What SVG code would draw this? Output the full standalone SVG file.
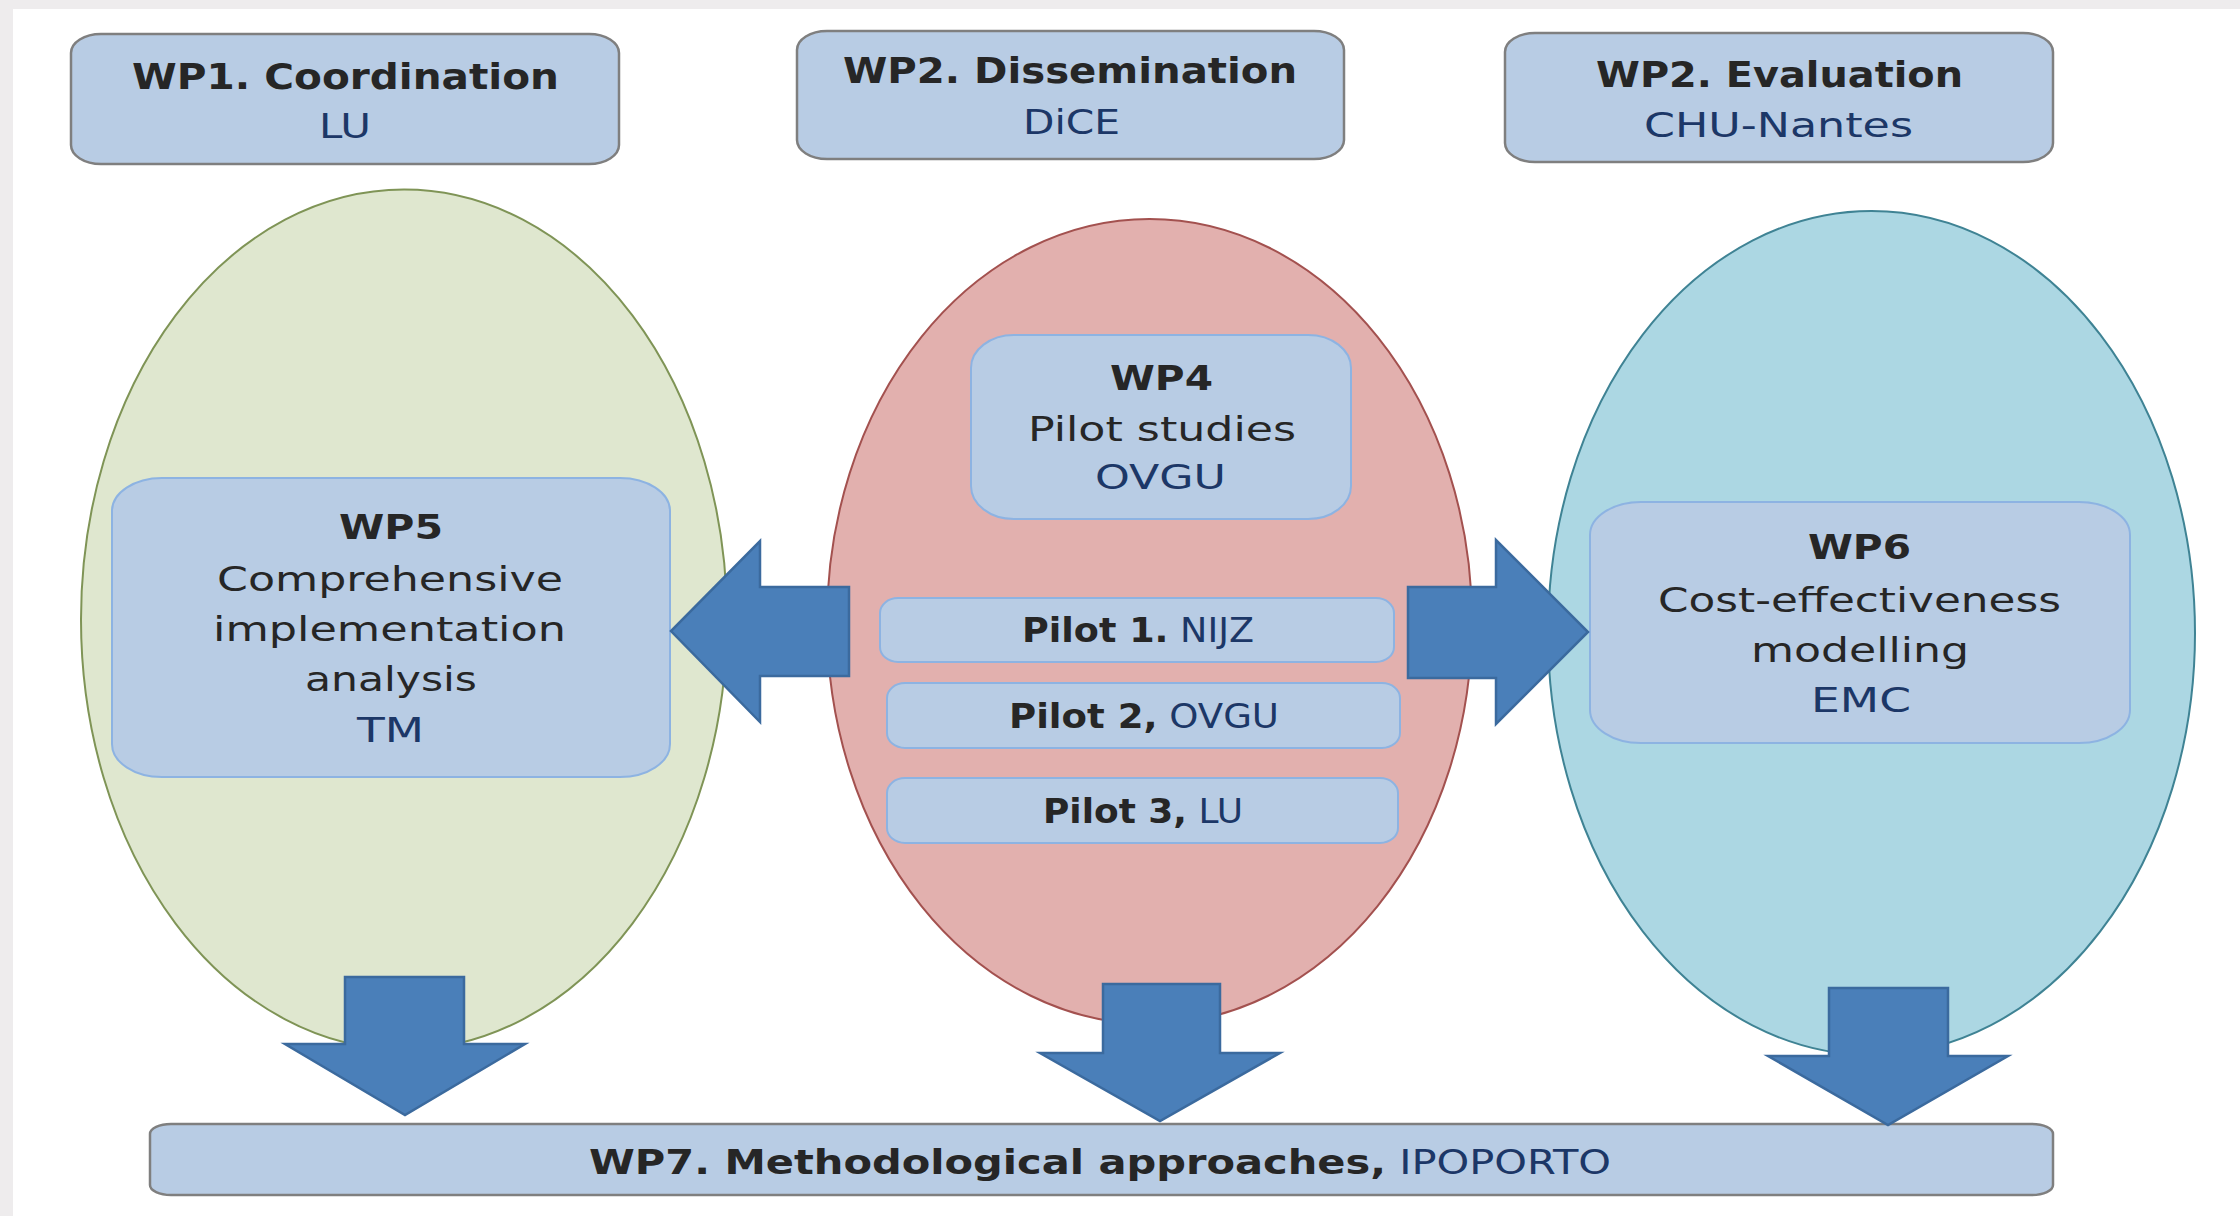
<svg xmlns="http://www.w3.org/2000/svg" width="2240" height="1216" viewBox="0 0 2240 1216">
<style>
.box{fill:#b8cce4;stroke:#7f7f7f;stroke-width:2.5}
.inner{fill:#b8cce4;stroke:#8db3e2;stroke-width:2}
.t{font-family:"DejaVu Sans",sans-serif;fill:#262626;font-size:33px}
.h{font-weight:bold;font-size:36px}
.hb{font-weight:bold}
.s{fill:#1c3767;font-weight:normal}
.arrow{fill:#4a7fb9;stroke:#3b6a9e;stroke-width:2.5;stroke-linejoin:miter}
</style>
<rect x="0" y="0" width="2240" height="1216" fill="#ffffff"/>
<rect x="0" y="0" width="2240" height="9" fill="#eeeced"/>
<rect x="0" y="0" width="13" height="1216" fill="#eeeced"/>

<g id="phase-green">
<ellipse cx="404" cy="619.5" rx="323" ry="430" fill="#dfe7cf" stroke="#7f9456" stroke-width="2"/>
</g>
<g id="phase-red">
<ellipse cx="1149.5" cy="621.5" rx="322.5" ry="402.5" fill="#e2b0ae" stroke="#a3514f" stroke-width="2"/>
</g>
<g id="phase-blue">
<ellipse cx="1871.5" cy="633" rx="323.5" ry="422" fill="#acd7e3" stroke="#3f8394" stroke-width="2"/>
</g>

<g id="wp1">
<rect class="box" x="71" y="34" width="548" height="130" rx="30" ry="19"/>
<text class="t h" x="132" y="89" textLength="427" lengthAdjust="spacingAndGlyphs">WP1. Coordination</text>
<text class="t s" x="319" y="138" textLength="52" lengthAdjust="spacingAndGlyphs">LU</text>
</g>
<g id="wp2-dissemination">
<rect class="box" x="797" y="31" width="547" height="128" rx="30" ry="19"/>
<text class="t h" x="843" y="83" textLength="454" lengthAdjust="spacingAndGlyphs">WP2. Dissemination</text>
<text class="t s" x="1023" y="134" textLength="97" lengthAdjust="spacingAndGlyphs">DiCE</text>
</g>
<g id="wp2-evaluation">
<rect class="box" x="1505" y="33" width="548" height="129" rx="30" ry="19"/>
<text class="t h" x="1596" y="87" textLength="367" lengthAdjust="spacingAndGlyphs">WP2. Evaluation</text>
<text class="t s" x="1644" y="137" textLength="269" lengthAdjust="spacingAndGlyphs">CHU-Nantes</text>
</g>

<g id="wp5">
<rect class="inner" x="112" y="478" width="558" height="299" rx="50" ry="33"/>
<text class="t hb" x="339" y="539" textLength="104" lengthAdjust="spacingAndGlyphs">WP5</text>
<text class="t" x="217" y="591" textLength="346" lengthAdjust="spacingAndGlyphs">Comprehensive</text>
<text class="t" x="213" y="641" textLength="353" lengthAdjust="spacingAndGlyphs">implementation</text>
<text class="t" x="305" y="691" textLength="172" lengthAdjust="spacingAndGlyphs">analysis</text>
<text class="t s" x="357" y="742" textLength="67" lengthAdjust="spacingAndGlyphs">TM</text>
</g>

<g id="wp4">
<rect class="inner" x="971" y="335" width="380" height="184" rx="43" ry="33"/>
<text class="t hb" x="1110" y="390" textLength="103" lengthAdjust="spacingAndGlyphs">WP4</text>
<text class="t" x="1028" y="441" textLength="268" lengthAdjust="spacingAndGlyphs">Pilot studies</text>
<text class="t s" x="1095" y="489" textLength="131" lengthAdjust="spacingAndGlyphs">OVGU</text>
</g>
<g id="pilot1">
<rect class="inner" x="880" y="598" width="514" height="64" rx="18" ry="15"/>
<text class="t" x="1022" y="642" textLength="232" lengthAdjust="spacingAndGlyphs"><tspan class="hb">Pilot 1.</tspan><tspan class="s"> NIJZ</tspan></text>
</g>
<g id="pilot2">
<rect class="inner" x="887" y="683" width="513" height="65" rx="18" ry="15"/>
<text class="t" x="1009" y="728" textLength="270" lengthAdjust="spacingAndGlyphs"><tspan class="hb">Pilot 2,</tspan><tspan class="s"> OVGU</tspan></text>
</g>
<g id="pilot3">
<rect class="inner" x="887" y="778" width="511" height="65" rx="18" ry="15"/>
<text class="t" x="1043" y="823" textLength="200" lengthAdjust="spacingAndGlyphs"><tspan class="hb">Pilot 3,</tspan><tspan class="s"> LU</tspan></text>
</g>

<g id="wp6">
<rect class="inner" x="1590" y="502" width="540" height="241" rx="51" ry="33"/>
<text class="t hb" x="1808" y="559" textLength="103" lengthAdjust="spacingAndGlyphs">WP6</text>
<text class="t" x="1658" y="612" textLength="403" lengthAdjust="spacingAndGlyphs">Cost-effectiveness</text>
<text class="t" x="1751" y="662" textLength="218" lengthAdjust="spacingAndGlyphs">modelling</text>
<text class="t s" x="1811" y="712" textLength="100" lengthAdjust="spacingAndGlyphs">EMC</text>
</g>

<g id="wp7">
<rect class="box" x="150" y="1124" width="1903" height="71" rx="21" ry="10"/>
<text class="t" x="589" y="1174" font-size="36" textLength="1022" lengthAdjust="spacingAndGlyphs"><tspan class="hb">WP7. Methodological approaches,</tspan><tspan class="s"> IPOPORTO</tspan></text>
</g>

<g id="connectors">
<polygon class="arrow" points="849,587 760,587 760,541 671,631 760,722 760,676 849,676"/>
<polygon class="arrow" points="1408,587 1496,587 1496,540 1588,632 1496,724 1496,678 1408,678"/>
<polygon class="arrow" points="345,977 464,977 464,1044 525,1044 405,1115 285,1044 345,1044"/>
<polygon class="arrow" points="1103,984 1220,984 1220,1053 1280,1053 1160,1121 1040,1053 1103,1053"/>
<polygon class="arrow" points="1829,988 1948,988 1948,1056 2008,1056 1888,1125 1768,1056 1829,1056"/>
</g>
</svg>
